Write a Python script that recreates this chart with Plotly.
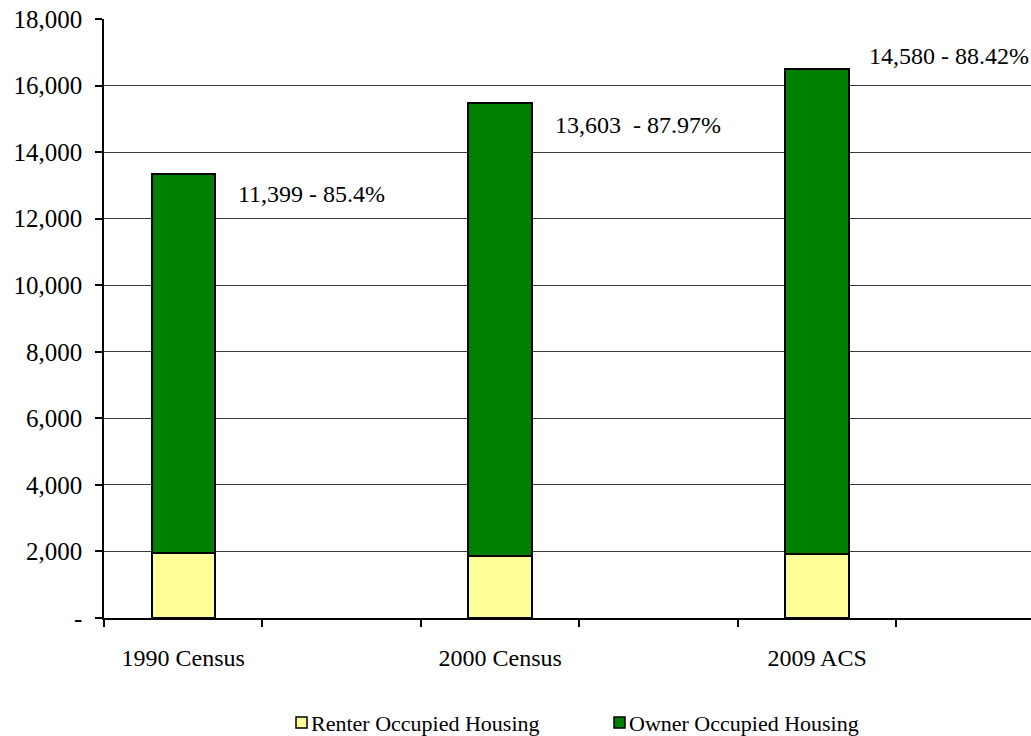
import plotly.graph_objects as go

# Occupied housing units by tenure
categories = ["1990 Census", "2000 Census", "2009 ACS"]
owner = [11399, 13603, 14580]
owner_pct = ["85.4%", "87.97%", "88.42%"]
renter = [1949, 1860, 1909]

y_ticks = [0, 2000, 4000, 6000, 8000, 10000, 12000, 14000, 16000, 18000]

FONT = "Liberation Serif"
GREEN = "#008000"
YELLOW = "#FFFF99"

W, H = 1031, 736
ML, MR, MT, MB = 104, 0, 19, 118
PW, PH = W - ML - MR, H - MT - MB

# empty spacer slots between the survey years on the category axis
slots = ["1990 Census", " ", "2000 Census", "  ", "2009 ACS", "   "]

series = [
    ("Renter Occupied Housing", renter, YELLOW),
    ("Owner Occupied Housing", owner, GREEN),
]

fig = go.Figure()
for name, vals, color in series:
    fig.add_trace(go.Bar(
        name=name, x=categories, y=vals, width=0.4,
        marker=dict(color=color, line=dict(color="black", width=2)),
    ))

# value / share labels beside the top of each bar
label_sep = [" - ", "\u00a0 - ", " - "]
label_dy = [-20, -22, 13]
label_dx = [53, 53, 50]
for i, cat in enumerate(categories):
    total = owner[i] + renter[i]
    fig.add_annotation(
        x=cat, y=total, xref="x", yref="y",
        text=f"{owner[i]:,}{label_sep[i]}{owner_pct[i]}",
        showarrow=False, xanchor="left", yanchor="middle",
        xshift=label_dx[i], yshift=label_dy[i],
        font=dict(family=FONT, size=24, color="black"),
    )

# legend row below the axis: square key followed by its name
def px_x(px):
    return (px - ML) / PW

def px_y(py):
    return (H - MB - py) / PH

legend_left = [296, 614]
key_size, key_top, text_mid = 11, 717, 723
for (name, _, color), left in zip(series, legend_left):
    fig.add_shape(
        type="rect", xref="paper", yref="paper",
        x0=px_x(left), x1=px_x(left + key_size),
        y0=px_y(key_top + key_size), y1=px_y(key_top),
        fillcolor=color, line=dict(color="black", width=1.5),
    )
    fig.add_annotation(
        x=px_x(left + key_size + 2), y=px_y(text_mid), xref="paper", yref="paper",
        text=name, showarrow=False, xanchor="left", yanchor="middle",
        font=dict(family=FONT, size=22, color="black"),
    )

fig.update_layout(
    barmode="stack",
    width=W, height=H,
    margin=dict(l=ML, r=MR, t=MT, b=MB, autoexpand=False),
    paper_bgcolor="white", plot_bgcolor="white",
    font=dict(family=FONT, size=23, color="black"),
    showlegend=False,
    bargap=0,
)
fig.update_xaxes(
    type="category", categoryorder="array", categoryarray=slots,
    range=[-0.5, 5.35], tickson="boundaries",
    showline=True, linecolor="black", linewidth=1.5,
    ticks="outside", ticklen=7, tickcolor="black", tickwidth=1.5,
    showgrid=False, ticklabelstandoff=17,
    tickfont=dict(family=FONT, size=24, color="black"),
)
fig.update_yaxes(
    range=[0, 18000],
    tickmode="array", tickvals=y_ticks,
    ticktext=["-" if v == 0 else f"{v:,}" for v in y_ticks],
    showline=True, linecolor="black", linewidth=1.5,
    ticks="outside", ticklen=7, tickcolor="black", tickwidth=1.5,
    showgrid=True, gridcolor="#3a3a3a", gridwidth=1,
    zeroline=False, ticklabelstandoff=8,
    tickfont=dict(family=FONT, size=25, color="black"),
)

fig.write_html("out.html")
